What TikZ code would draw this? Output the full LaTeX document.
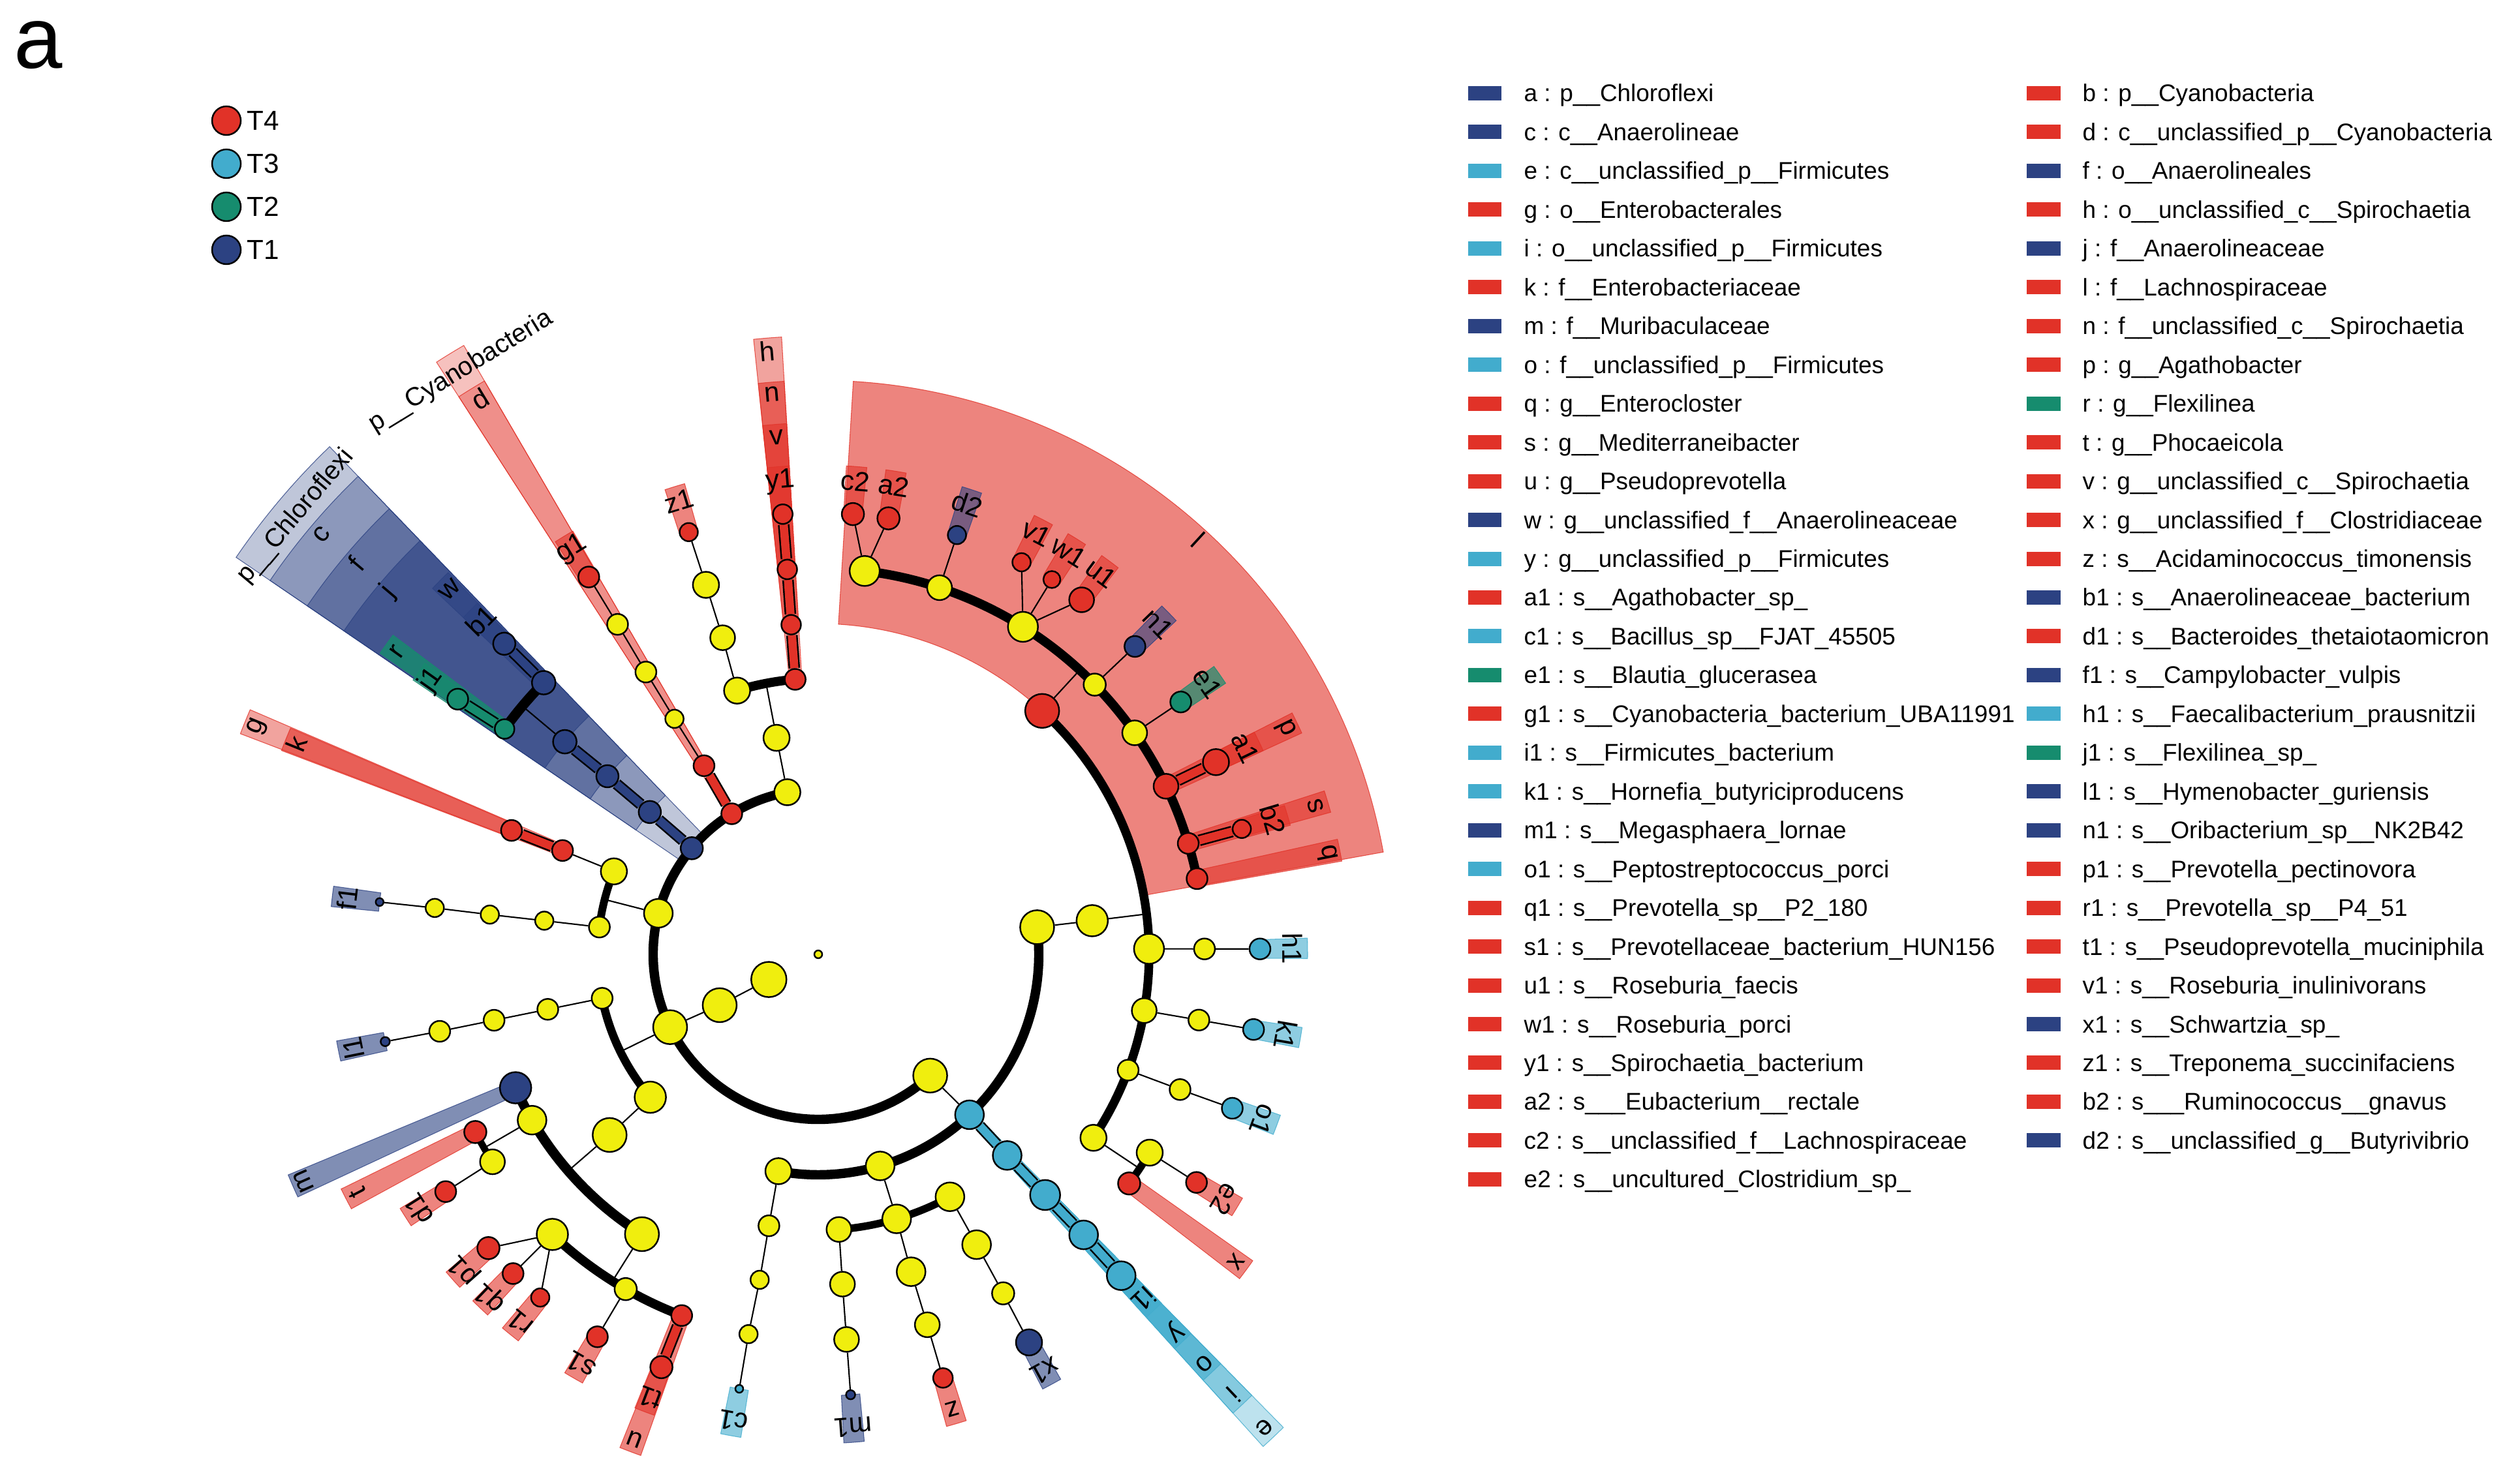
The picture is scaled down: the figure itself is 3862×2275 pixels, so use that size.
\documentclass[tikz,border=0pt]{standalone}
\usepackage{fontspec}
\setmainfont{Liberation Sans}
\usepackage{tikz}

\definecolor{tred}{RGB}{225,50,40}
\definecolor{tcyan}{RGB}{66,172,205}
\definecolor{tgreen}{RGB}{22,140,110}
\definecolor{tnavy}{RGB}{44,66,130}
\definecolor{tyel}{RGB}{240,238,14}

\pgfdeclarelayer{bands}
\pgfdeclarelayer{links}
\pgfsetlayers{bands,links,main}

\def\lvA{253}\def\lvB{338}\def\lvC{423}\def\lvD{507}\def\lvE{592}\def\lvF{677}
\def\ouA{1080}\def\ouB{1017}\def\ouC{948}\def\ouD{880}\def\ouE{815}\def\ouF{750}

\tikzset{
  cnode/.style={circle, draw=black, line width=0.7pt, inner sep=0pt},
  tlink/.style={line width=0.6pt},
  clink/.style={draw=#1, line width=3.6pt, preaction={draw=black, line width=5pt}},
  lab/.style={inner sep=0pt, font=\fontsize{12}{14}\selectfont},
  leg/.style={inner sep=0pt, anchor=base west, font=\fontsize{10.5}{12}\selectfont},
  keytext/.style={inner sep=0pt, anchor=west, font=\fontsize{12}{14}\selectfont}
}

\newcommand{\cnd}[5]{\node[cnode, fill=#2, minimum size=#3*0.1mm] (#1) at (#4:#5) {};}
\newcommand{\band}[6]{\filldraw[fill=#1, draw=#1, fill opacity=#2, draw opacity=0.8, line width=0.3pt] (#3:#5) arc[start angle=#3, end angle=#4, radius=#5] -- (#4:#6) arc[start angle=#4, end angle=#3, radius=#6] -- cycle;}
\newcommand{\clab}[4]{\node[lab, rotate=#2-90] (#1) at (#2:#3) {#4};}

\begin{document}
\begin{tikzpicture}[x=0.01cm, y=0.01cm]
\useasboundingbox (0,0) rectangle (3862,2275);

\node [inner sep=0pt, font=\fontsize{38}{40}\selectfont] (panel) at (59,2206) {a};

\foreach \col/\txt [count=\i from 0] in {tred/T4, tcyan/T3, tgreen/T2, tnavy/T1} {
  \node [cnode, fill=\col, minimum size=4.4mm] (key\i) at (347,{2090-66*\i}) {};
  \node [keytext] (keyl\i) at ([xshift=0.8mm]key\i.east) {\txt};
}

\foreach \col/\txt [count=\i from 0] in {tnavy/{a : p\_\_Chloroflexi}, tnavy/{c : c\_\_Anaerolineae}, tcyan/{e : c\_\_unclassified\_p\_\_Firmicutes}, tred/{g : o\_\_Enterobacterales}, tcyan/{i : o\_\_unclassified\_p\_\_Firmicutes}, tred/{k : f\_\_Enterobacteriaceae}, tnavy/{m : f\_\_Muribaculaceae}, tcyan/{o : f\_\_unclassified\_p\_\_Firmicutes}, tred/{q : g\_\_Enterocloster}, tred/{s : g\_\_Mediterraneibacter}, tred/{u : g\_\_Pseudoprevotella}, tnavy/{w : g\_\_unclassified\_f\_\_Anaerolineaceae}, tcyan/{y : g\_\_unclassified\_p\_\_Firmicutes}, tred/{a1 : s\_\_Agathobacter\_sp\_}, tcyan/{c1 : s\_\_Bacillus\_sp\_\_FJAT\_45505}, tgreen/{e1 : s\_\_Blautia\_glucerasea}, tred/{g1 : s\_\_Cyanobacteria\_bacterium\_UBA11991}, tcyan/{i1 : s\_\_Firmicutes\_bacterium}, tcyan/{k1 : s\_\_Hornefia\_butyriciproducens}, tnavy/{m1 : s\_\_Megasphaera\_lornae}, tcyan/{o1 : s\_\_Peptostreptococcus\_porci}, tred/{q1 : s\_\_Prevotella\_sp\_\_P2\_180}, tred/{s1 : s\_\_Prevotellaceae\_bacterium\_HUN156}, tred/{u1 : s\_\_Roseburia\_faecis}, tred/{w1 : s\_\_Roseburia\_porci}, tred/{y1 : s\_\_Spirochaetia\_bacterium}, tred/{a2 : s\_\_\_Eubacterium\_\_rectale}, tred/{c2 : s\_\_unclassified\_f\_\_Lachnospiraceae}, tred/{e2 : s\_\_uncultured\_Clostridium\_sp\_}} {
  \fill[\col] (2250,{2121-59.46*\i}) rectangle (2301,{2143-59.46*\i});
  \node [leg] (lgL\i) at (2335,{2119-59.46*\i}) {\txt};
}

\foreach \col/\txt [count=\i from 0] in {tred/{b : p\_\_Cyanobacteria}, tred/{d : c\_\_unclassified\_p\_\_Cyanobacteria}, tnavy/{f : o\_\_Anaerolineales}, tred/{h : o\_\_unclassified\_c\_\_Spirochaetia}, tnavy/{j : f\_\_Anaerolineaceae}, tred/{l : f\_\_Lachnospiraceae}, tred/{n : f\_\_unclassified\_c\_\_Spirochaetia}, tred/{p : g\_\_Agathobacter}, tgreen/{r : g\_\_Flexilinea}, tred/{t : g\_\_Phocaeicola}, tred/{v : g\_\_unclassified\_c\_\_Spirochaetia}, tred/{x : g\_\_unclassified\_f\_\_Clostridiaceae}, tred/{z : s\_\_Acidaminococcus\_timonensis}, tnavy/{b1 : s\_\_Anaerolineaceae\_bacterium}, tred/{d1 : s\_\_Bacteroides\_thetaiotaomicron}, tnavy/{f1 : s\_\_Campylobacter\_vulpis}, tcyan/{h1 : s\_\_Faecalibacterium\_prausnitzii}, tgreen/{j1 : s\_\_Flexilinea\_sp\_}, tnavy/{l1 : s\_\_Hymenobacter\_guriensis}, tnavy/{n1 : s\_\_Oribacterium\_sp\_\_NK2B42}, tred/{p1 : s\_\_Prevotella\_pectinovora}, tred/{r1 : s\_\_Prevotella\_sp\_\_P4\_51}, tred/{t1 : s\_\_Pseudoprevotella\_muciniphila}, tred/{v1 : s\_\_Roseburia\_inulinivorans}, tnavy/{x1 : s\_\_Schwartzia\_sp\_}, tred/{z1 : s\_\_Treponema\_succinifaciens}, tred/{b2 : s\_\_\_Ruminococcus\_\_gnavus}, tnavy/{d2 : s\_\_unclassified\_g\_\_Butyrivibrio}} {
  \fill[\col] (3106,{2121-59.46*\i}) rectangle (3158,{2143-59.46*\i});
  \node [leg] (lgR\i) at (3191,{2119-59.46*\i}) {\txt};
}

\begin{scope}[shift={(1254,812)}]
\node [cnode, fill=tyel, minimum size=1.2mm] (root) at (0,0) {};

\cnd{spi}{tyel}{40}{100.8}{\lvA} \cnd{spiC}{tyel}{40}{100.9}{\lvB}
\cnd{nh}{tred}{32}{94.8}{\lvC} \cnd{nn}{tred}{30}{94.7}{\lvD} \cnd{nv}{tred}{30}{94.6}{\lvE} \cnd{ny1}{tred}{30}{94.6}{\lvF}
\cnd{spiO}{tyel}{40}{107.1}{\lvC} \cnd{spiF}{tyel}{38}{106.8}{\lvD} \cnd{spiG}{tyel}{40}{106.9}{\lvE} \cnd{nz1}{tred}{28}{107.05}{\lvF}

\cnd{nb}{tred}{32}{121.6}{\lvA} \cnd{nd}{tred}{32}{121.2}{\lvB}
\cnd{cyaO}{tyel}{28}{121.4}{\lvC} \cnd{cyaF}{tyel}{32}{121.4}{\lvD} \cnd{cyaG}{tyel}{32}{121.3}{\lvE} \cnd{ng1}{tred}{32}{121.3}{\lvF}

\cnd{na}{tnavy}{34}{140}{\lvA} \cnd{nc}{tnavy}{34}{139.8}{\lvB} \cnd{nf}{tnavy}{34}{139.8}{\lvC} \cnd{nj}{tnavy}{36}{140}{\lvD}
\cnd{nr}{tgreen}{30}{144.3}{\lvE} \cnd{nw}{tnavy}{36}{135.3}{\lvE} \cnd{nj1}{tgreen}{32}{144.7}{\lvF} \cnd{nb1}{tnavy}{34}{135.3}{\lvF}

\cnd{pro}{tyel}{44}{165.6}{\lvA} \cnd{proC}{tyel}{40}{157.9}{\lvB} \cnd{ng}{tred}{32}{157.9}{\lvC} \cnd{nk}{tred}{32}{158}{\lvD}
\cnd{camC}{tyel}{32}{172.9}{\lvB} \cnd{camO}{tyel}{28}{173}{\lvC} \cnd{camF}{tyel}{28}{173.1}{\lvD} \cnd{camG}{tyel}{28}{173.1}{\lvE} \cnd{nf1}{tnavy}{12}{173.2}{\lvF}

\cnd{bac}{tyel}{52}{206.2}{\lvA} \cnd{bacI}{tyel}{52}{207.3}{170} \cnd{bacII}{tyel}{54}{207}{85}
\cnd{cytC}{tyel}{32}{191.5}{\lvB} \cnd{cytO}{tyel}{32}{191.5}{\lvC} \cnd{cytF}{tyel}{32}{191.5}{\lvD} \cnd{cytG}{tyel}{32}{191.5}{\lvE} \cnd{nl1}{tnavy}{14}{191.4}{\lvF}
\cnd{bacC}{tyel}{48}{220.4}{\lvB} \cnd{bacO}{tyel}{52}{220.9}{\lvC} \cnd{nm}{tnavy}{48}{203.8}{\lvD}
\cnd{bdsF}{tyel}{44}{210.1}{\lvD} \cnd{nt}{tred}{34}{207.4}{\lvE} \cnd{bdsG}{tyel}{38}{212.5}{\lvE} \cnd{nd1}{tred}{32}{212.5}{\lvF}
\cnd{prvF}{tyel}{52}{237.8}{\lvD} \cnd{prvG}{tyel}{48}{226.5}{\lvE} \cnd{np1}{tred}{34}{221.7}{\lvF} \cnd{nq1}{tred}{32}{226.3}{\lvF} \cnd{nr1}{tred}{28}{231}{\lvF}
\cnd{prvH}{tyel}{34}{240.1}{\lvE} \cnd{ns1}{tred}{32}{240}{\lvF} \cnd{nu}{tred}{32}{249.3}{\lvE} \cnd{nt1}{tred}{34}{249.2}{\lvF}

\cnd{fir}{tyel}{52}{-47.3}{\lvA}
\cnd{bcsC}{tyel}{40}{-100.4}{\lvB} \cnd{bcsO}{tyel}{32}{-100.3}{\lvC} \cnd{bcsF}{tyel}{28}{-100.2}{\lvD} \cnd{bcsG}{tyel}{28}{-100.4}{\lvE} \cnd{nc1}{tcyan}{12}{-100.3}{\lvF}
\cnd{negC}{tyel}{44}{-73.7}{\lvB}
\cnd{negOa}{tyel}{38}{-85.7}{\lvC} \cnd{negFa}{tyel}{38}{-85.8}{\lvD} \cnd{negGa}{tyel}{38}{-85.8}{\lvE} \cnd{nm1}{tnavy}{14}{-85.8}{\lvF}
\cnd{negOb}{tyel}{44}{-73.5}{\lvC} \cnd{negFb}{tyel}{44}{-73.7}{\lvD} \cnd{negGb}{tyel}{38}{-73.6}{\lvE} \cnd{nz}{tred}{30}{-73.6}{\lvF}
\cnd{negOc}{tyel}{44}{-61.5}{\lvC} \cnd{negFc}{tyel}{44}{-61.4}{\lvD} \cnd{negGc}{tyel}{34}{-61.4}{\lvE} \cnd{nx1}{tnavy}{40}{-61.5}{\lvF}
\cnd{ne}{tcyan}{44}{-46.7}{\lvB} \cnd{ni}{tcyan}{44}{-46.8}{\lvC} \cnd{no}{tcyan}{46}{-46.7}{\lvD} \cnd{ny}{tcyan}{44}{-46.6}{\lvE} \cnd{ni1}{tcyan}{44}{-46.7}{\lvF}
\cnd{cloC}{tyel}{52}{7.07}{\lvB} \cnd{cloO}{tyel}{48}{7}{\lvC}
\cnd{rumF}{tyel}{46}{0.95}{\lvD} \cnd{rumG}{tyel}{32}{0.8}{\lvE} \cnd{nh1}{tcyan}{32}{0.7}{\lvF}
\cnd{fmF}{tyel}{38}{-9.8}{\lvD} \cnd{fmG}{tyel}{32}{-9.8}{\lvE} \cnd{nk1}{tcyan}{32}{-9.8}{\lvF}
\cnd{psF}{tyel}{32}{-20.5}{\lvD} \cnd{psG}{tyel}{32}{-20.5}{\lvE} \cnd{no1}{tcyan}{32}{-20.4}{\lvF}
\cnd{clsF}{tyel}{40}{-33.7}{\lvD} \cnd{clsG}{tyel}{40}{-30.9}{\lvE} \cnd{nx}{tred}{34}{-36.4}{\lvE} \cnd{ne2}{tred}{32}{-31.1}{\lvF}
\cnd{nl}{tred}{52}{47.4}{\lvD}
\cnd{lacA}{tyel}{46}{83.1}{\lvE} \cnd{nc2}{tred}{34}{85.5}{\lvF} \cnd{na2}{tred}{34}{80.85}{\lvF}
\cnd{lacB}{tyel}{38}{71.7}{\lvE} \cnd{nd2}{tnavy}{28}{71.7}{\lvF}
\cnd{lacC}{tyel}{46}{58}{\lvE} \cnd{nv1}{tred}{28}{62.6}{\lvF} \cnd{nw1}{tred}{26}{58.07}{\lvF} \cnd{nu1}{tred}{38}{53.4}{\lvF}
\cnd{lacD}{tyel}{34}{44.3}{\lvE} \cnd{nn1}{tnavy}{32}{44.2}{\lvF}
\cnd{lacE}{tyel}{38}{35}{\lvE} \cnd{ne1}{tgreen}{32}{34.85}{\lvF}
\cnd{np}{tred}{38}{25.8}{\lvE} \cnd{na1}{tred}{40}{25.8}{\lvF}
\cnd{ns}{tred}{32}{16.7}{\lvE} \cnd{nb2}{tred}{28}{16.5}{\lvF}
\cnd{nq}{tred}{32}{11.3}{\lvE}

\coordinate (spiJ) at (100.9:\lvC); \coordinate (chlJ) at (140:\lvE); \coordinate (proJ) at (165.6:\lvB);
\coordinate (bacJ) at (206.2:\lvB); \coordinate (bacK) at (220.9:\lvD); \coordinate (bdsJ) at (210.1:\lvE);
\coordinate (prvJ) at (237.8:\lvE); \coordinate (cloJ) at (7:\lvD); \coordinate (lacJ) at (47.4:\lvE); \coordinate (clsJ) at (-33.7:\lvE);

\begin{pgfonlayer}{links}
\draw [line width=4.1pt] (spi.center) arc [start angle=100.8, end angle=313.3, radius=\lvA];
\draw [line width=4pt] (nh.center) arc [start angle=94.8, end angle=107.1, radius=\lvC];
\draw [line width=4.3pt] (nw.center) arc [start angle=135.3, end angle=144.3, radius=\lvE];
\draw [line width=3.4pt] (proC.center) arc [start angle=157.9, end angle=172.9, radius=\lvB];
\draw [line width=3.6pt] (cytC.center) arc [start angle=191.5, end angle=220.4, radius=\lvB];
\draw [line width=4.3pt] (nm.center) arc [start angle=203.8, end angle=237.8, radius=\lvD];
\draw [line width=3pt] (nt.center) arc [start angle=207.4, end angle=212.5, radius=\lvE];
\draw [line width=4pt] (prvG.center) arc [start angle=226.5, end angle=249.3, radius=\lvE];
\draw [line width=4.1pt] (bcsC.center) arc [start angle=-100.4, end angle=7.07, radius=\lvB];
\draw [line width=3.3pt] (negOa.center) arc [start angle=-85.7, end angle=-61.5, radius=\lvC];
\draw [line width=3.8pt] (clsF.center) arc [start angle=-33.7, end angle=47.4, radius=\lvD];
\draw [line width=3.3pt] (nx.center) arc [start angle=-36.4, end angle=-30.9, radius=\lvE];
\draw [line width=4pt] (nq.center) arc [start angle=11.3, end angle=83.1, radius=\lvE];

\draw [tlink] (spi) -- (spiC) -- (spiJ);
\draw [tlink] (spiO) -- (spiF) -- (spiG) -- (nz1);
\draw [tlink] (nd) -- (cyaO) -- (cyaF) -- (cyaG) -- (ng1);
\draw [tlink] (nj) -- (chlJ);
\draw [tlink] (pro) -- (proJ); \draw [tlink] (proC) -- (ng);
\draw [tlink] (camC) -- (camO) -- (camF) -- (camG) -- (nf1);
\draw [tlink] (bac) -- (bacJ); \draw [tlink] (bac) -- (bacI) -- (bacII);
\draw [tlink] (cytC) -- (cytO) -- (cytF) -- (cytG) -- (nl1);
\draw [tlink] (bacC) -- (bacO) -- (bacK);
\draw [tlink] (bdsF) -- (bdsJ); \draw [tlink] (bdsG) -- (nd1);
\draw [tlink] (prvF) -- (prvJ);
\draw [tlink] (prvG) -- (np1); \draw [tlink] (prvG) -- (nq1); \draw [tlink] (prvG) -- (nr1);
\draw [tlink] (prvH) -- (ns1);
\draw [tlink] (fir) -- (ne);
\draw [tlink] (bcsC) -- (bcsO) -- (bcsF) -- (bcsG) -- (nc1);
\draw [tlink] (negC) -- (negOb);
\draw [tlink] (negOa) -- (negFa) -- (negGa) -- (nm1);
\draw [tlink] (negOb) -- (negFb) -- (negGb) -- (nz);
\draw [tlink] (negOc) -- (negFc) -- (negGc) -- (nx1);
\draw [tlink] (cloC) -- (cloO) -- (cloJ);
\draw [tlink] (rumF) -- (rumG) -- (nh1);
\draw [tlink] (fmF) -- (fmG) -- (nk1);
\draw [tlink] (psF) -- (psG) -- (no1);
\draw [tlink] (clsF) -- (clsJ); \draw [tlink] (clsG) -- (ne2);
\draw [tlink] (nl) -- (lacJ);
\draw [tlink] (lacA) -- (nc2); \draw [tlink] (lacA) -- (na2);
\draw [tlink] (lacB) -- (nd2);
\draw [tlink] (lacC) -- (nv1); \draw [tlink] (lacC) -- (nw1); \draw [tlink] (lacC) -- (nu1);
\draw [tlink] (lacD) -- (nn1);
\draw [tlink] (lacE) -- (ne1);

\draw [clink=tred] (nb) -- (nd);
\draw [clink=tred] (nh) -- (nn) -- (nv) -- (ny1);
\draw [clink=tnavy] (na) -- (nc) -- (nf) -- (nj);
\draw [clink=tnavy] (nw) -- (nb1);
\draw [clink=tgreen] (nr) -- (nj1);
\draw [clink=tred] (ng) -- (nk);
\draw [clink=tred] (nu) -- (nt1);
\draw [clink=tcyan] (ne) -- (ni) -- (no) -- (ny) -- (ni1);
\draw [clink=tred] (np) -- (na1);
\draw [clink=tred] (ns) -- (nb2);
\end{pgfonlayer}

\begin{pgfonlayer}{bands}
\band{tnavy}{0.3}{133.9}{145.7}{\lvA}{\ouA} \band{tnavy}{0.35}{133.9}{145.7}{\lvB}{\ouB}
\band{tnavy}{0.45}{133.9}{145.7}{\lvC}{\ouC} \band{tnavy}{0.6}{133.9}{145.7}{\lvD}{\ouD}
\band{tnavy}{0.6}{134.1}{136.5}{\lvE}{\ouE} \band{tnavy}{0.6}{134.1}{136.5}{\lvF}{\ouF}
\band{tgreen}{0.8}{143.1}{145.5}{\lvE}{\ouE} \band{tgreen}{0.7}{143.5}{145.9}{\lvF}{\ouF}
\band{tred}{0.3}{120.2}{122.8}{\lvA}{\ouA} \band{tred}{0.35}{120.2}{122.8}{\lvB}{\ouB}
\band{tred}{0.6}{120.1}{122.5}{\lvF}{\ouF}
\band{tred}{0.45}{93.4}{96}{\lvC}{\ouC} \band{tred}{0.6}{93.4}{96}{\lvD}{\ouD}
\band{tred}{0.6}{93.4}{96}{\lvE}{\ouE} \band{tred}{0.6}{93.4}{96}{\lvF}{\ouF}
\band{tred}{0.6}{105.85}{108.25}{\lvF}{\ouF}
\band{tred}{0.45}{156.7}{159.1}{\lvC}{\ouC} \band{tred}{0.6}{156.8}{159.2}{\lvD}{\ouD}
\band{tnavy}{0.6}{172}{174.4}{\lvF}{\ouF} \band{tnavy}{0.6}{190.2}{192.6}{\lvF}{\ouF}
\band{tnavy}{0.6}{202.6}{205}{\lvD}{\ouD} \band{tred}{0.6}{206.2}{208.6}{\lvE}{\ouE}
\band{tred}{0.6}{211.3}{213.7}{\lvF}{\ouF} \band{tred}{0.6}{220.5}{222.9}{\lvF}{\ouF}
\band{tred}{0.6}{225.1}{227.5}{\lvF}{\ouF} \band{tred}{0.6}{229.8}{232.2}{\lvF}{\ouF}
\band{tred}{0.6}{238.8}{241.2}{\lvF}{\ouF}
\band{tred}{0.6}{248.1}{250.5}{\lvE}{\ouE} \band{tred}{0.6}{248}{250.4}{\lvF}{\ouF}
\band{tcyan}{0.6}{-101.5}{-99.1}{\lvF}{\ouF} \band{tnavy}{0.6}{-87}{-84.6}{\lvF}{\ouF}
\band{tred}{0.6}{-74.8}{-72.4}{\lvF}{\ouF} \band{tnavy}{0.6}{-62.7}{-60.3}{\lvF}{\ouF}
\band{tcyan}{0.35}{-47.9}{-45.5}{\lvB}{\ouB} \band{tcyan}{0.45}{-47.9}{-45.5}{\lvC}{\ouC}
\band{tcyan}{0.6}{-47.9}{-45.5}{\lvD}{\ouD} \band{tcyan}{0.6}{-47.9}{-45.5}{\lvE}{\ouE}
\band{tcyan}{0.6}{-47.9}{-45.5}{\lvF}{\ouF}
\band{tred}{0.6}{-37.6}{-35.2}{\lvE}{\ouE} \band{tred}{0.6}{-32.3}{-29.9}{\lvF}{\ouF}
\band{tcyan}{0.6}{-21.6}{-19.2}{\lvF}{\ouF} \band{tcyan}{0.6}{-11}{-8.6}{\lvF}{\ouF}
\band{tcyan}{0.6}{-0.5}{1.9}{\lvF}{\ouF}
\band{tred}{0.6}{10.26}{86.5}{\lvD}{\ouD}
\band{tred}{0.6}{10.1}{12.5}{\lvE}{\ouE} \band{tred}{0.6}{15.5}{17.9}{\lvE}{\ouE}
\band{tred}{0.6}{15.3}{17.7}{\lvF}{\ouF} \band{tred}{0.6}{24.6}{27}{\lvE}{\ouE}
\band{tred}{0.6}{24.6}{27}{\lvF}{\ouF} \band{tgreen}{0.7}{33.65}{36.05}{\lvF}{\ouF}
\band{tnavy}{0.6}{43}{45.4}{\lvF}{\ouF} \band{tred}{0.6}{52.2}{54.6}{\lvF}{\ouF}
\band{tred}{0.6}{56.9}{59.3}{\lvF}{\ouF} \band{tred}{0.6}{61.4}{63.8}{\lvF}{\ouF}
\band{tnavy}{0.6}{70.5}{72.9}{\lvF}{\ouF} \band{tred}{0.6}{79.65}{82.05}{\lvF}{\ouF}
\band{tred}{0.6}{84.3}{86.7}{\lvF}{\ouF}
\end{pgfonlayer}

\node [lab, font=\fontsize{11.3}{13}\selectfont, rotate=50] (la) at (140:1045) {p\_\_Chloroflexi};
\node [lab, font=\fontsize{11.3}{13}\selectfont, rotate=31.5] (lb) at (121.5:1048) {p\_\_Cyanobacteria};
\clab{lc}{139.8}{997}{c} \clab{ld}{121.3}{997}{d} \clab{le}{-46.7}{997}{e}
\clab{lf}{139.8}{928}{f} \clab{lg}{157.9}{928}{g} \clab{lh}{94.8}{928}{h} \clab{li}{-46.7}{928}{i}
\clab{lj}{139.8}{862}{j} \clab{lk}{158}{862}{k} \clab{ll}{47.5}{862}{l} \clab{lm}{203.8}{862}{m}
\clab{ln}{94.7}{862}{n} \clab{lo}{-46.7}{862}{o}
\clab{lw}{135.3}{795}{w} \clab{lr}{144.3}{795}{r} \clab{lp}{25.8}{795}{p} \clab{lq}{11.3}{795}{q}
\clab{ls}{16.6}{795}{s} \clab{lt}{207.4}{795}{t} \clab{lu}{249.3}{795}{u} \clab{lv}{94.6}{795}{v}
\clab{lx}{-36.4}{795}{x} \clab{ly}{-46.7}{795}{y}
\clab{lb1}{135.3}{727}{b1} \clab{lj1}{144.7}{727}{j1} \clab{lg1}{121.3}{727}{g1} \clab{ly1}{94.6}{727}{y1}
\clab{lz1}{107.05}{727}{z1} \clab{lf1}{173.2}{727}{f1} \clab{ll1}{191.4}{727}{l1} \clab{ld1}{212.5}{727}{d1}
\clab{lp1}{221.7}{727}{p1} \clab{lq1}{226.3}{727}{q1} \clab{lr1}{231}{727}{r1} \clab{ls1}{240}{727}{s1}
\clab{lt1}{249.2}{727}{t1} \clab{lc1}{-100.3}{727}{c1} \clab{lm1}{-85.8}{727}{m1} \clab{lz}{-73.6}{727}{z}
\clab{lx1}{-61.5}{727}{x1} \clab{li1}{-46.7}{727}{i1} \clab{le2}{-31.1}{727}{e2} \clab{lo1}{-20.4}{727}{o1}
\clab{lk1}{-9.8}{727}{k1} \clab{lh1}{0.7}{727}{h1} \clab{lb2}{16.5}{727}{b2} \clab{la1}{25.8}{727}{a1}
\clab{le1}{34.85}{727}{e1} \clab{ln1}{44.2}{727}{n1} \clab{lu1}{53.4}{727}{u1} \clab{lw1}{58.07}{727}{w1}
\clab{lv1}{62.6}{727}{v1} \clab{ld2}{71.7}{727}{d2} \clab{la2}{80.85}{727}{a2} \clab{lc2}{85.5}{727}{c2}
\end{scope}
\end{tikzpicture}
\end{document}
